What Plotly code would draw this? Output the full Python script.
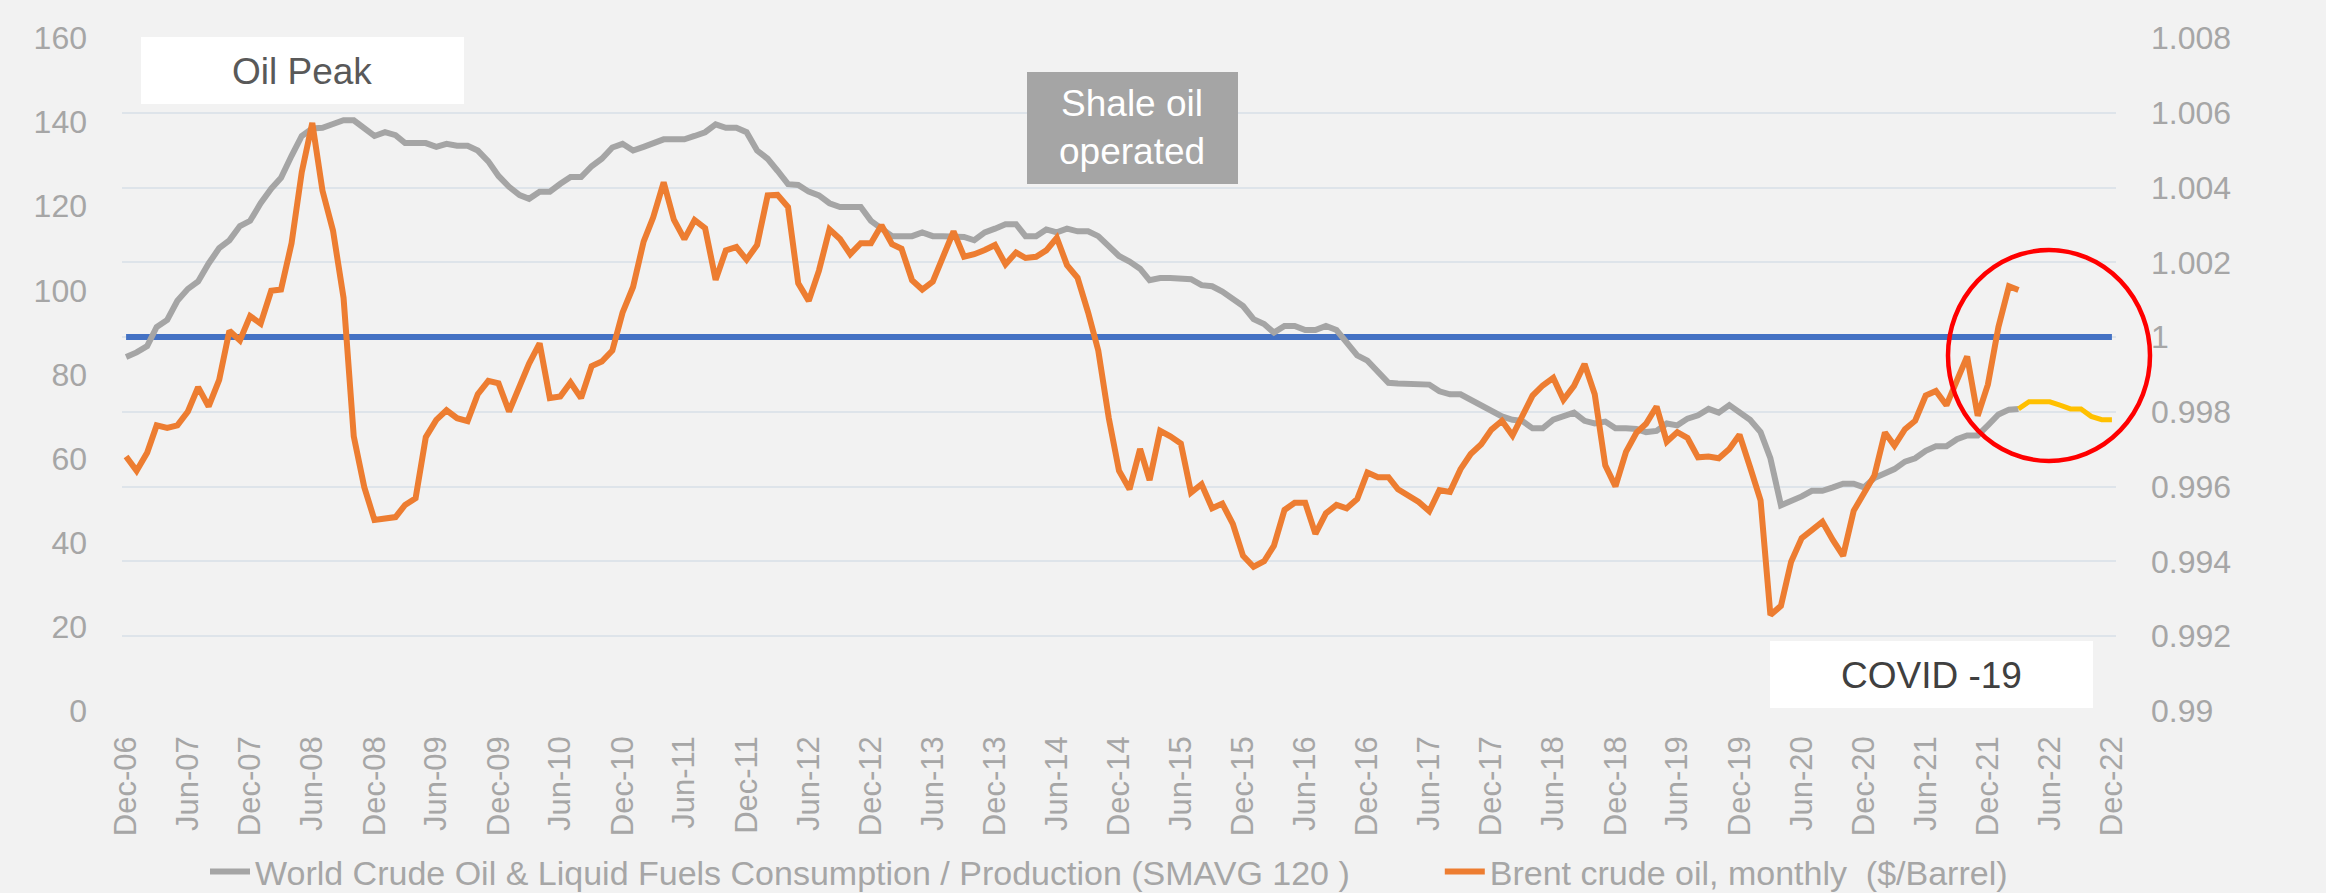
import pandas as pd
import plotly.graph_objects as go

# ---------------- data ----------------
months = pd.date_range("2006-12-01", "2022-12-01", freq="MS")  # Dec-06 .. Dec-22

brent = [
    60.5, 57.1, 61.4, 67.9, 67.3, 67.9, 71.2, 77.0, 72.4, 78.7,
    90.4, 88.1, 93.9, 92.1, 99.9, 100.2, 111.2, 128.1, 139.8, 123.7,
    114.2, 98.2, 65.3, 53.2, 45.4, 45.7, 46.1, 49.0, 50.6, 65.1,
    69.2, 71.5, 69.6, 68.9, 75.3, 78.5, 77.9, 71.2, 77.6, 82.6,
    87.4, 74.4, 74.8, 78.1, 74.4, 82.0, 83.1, 85.7, 94.7, 100.8,
    111.6, 117.3, 125.7, 116.8, 112.2, 116.7, 114.8, 102.5, 109.5, 110.3,
    107.3, 110.8, 122.6, 122.7, 119.8, 101.7, 97.5, 104.7, 114.5, 112.2,
    108.6, 111.2, 111.2, 115.5, 111.0, 109.9, 102.4, 100.2, 102.1, 107.6,
    114.0, 108.0, 108.6, 109.6, 110.8, 106.2, 109.0, 107.7, 108.0, 109.5,
    112.5, 106.0, 103.0, 94.8, 85.7, 69.6, 57.1, 52.7, 62.3, 54.9,
    66.6, 65.3, 63.6, 51.9, 53.9, 48.2, 49.3, 44.5, 36.9, 34.3,
    35.6, 39.3, 47.8, 49.5, 49.5, 42.1, 47.0, 49.0, 48.2, 50.4,
    56.7, 55.6, 55.6, 52.7, 51.3, 49.7, 47.5, 52.5, 52.1, 57.5,
    61.1, 63.4, 66.9, 69.0, 65.5, 70.1, 75.0, 77.4, 79.2, 74.0,
    77.3, 82.5, 75.3, 58.4, 53.4, 61.6, 66.2, 68.3, 72.4, 64.0,
    66.3, 64.9, 60.3, 60.5, 60.1, 62.3, 65.7, 58.0, 50.1, 22.8,
    25.0, 35.5, 41.1, 43.0, 45.0, 40.6, 36.9, 47.6, 51.6, 56.0,
    66.2, 63.1, 67.0, 69.0, 75.0, 76.1, 72.7, 78.7, 84.3, 70.2,
    77.6, 91.3, 101.0, 100.1,
]

ratio = [
    0.99947, 0.99959, 0.99976, 1.00027, 1.00046, 1.00097, 1.00129, 1.00149, 1.00197, 1.00238,
    1.00259, 1.00297, 1.00311, 1.00358, 1.00397, 1.00426, 1.00485, 1.00538, 1.00558, 1.00560,
    1.00570, 1.00580, 1.00580, 1.00561, 1.00538, 1.00548, 1.00540, 1.00519, 1.00519, 1.00519,
    1.00509, 1.00517, 1.00512, 1.00512, 1.00499, 1.00470, 1.00431, 1.00402, 1.00380, 1.00370,
    1.00389, 1.00389, 1.00410, 1.00428, 1.00428, 1.00457, 1.00477, 1.00507, 1.00517, 1.00499,
    1.00509, 1.00519, 1.00529, 1.00529, 1.00529, 1.00538, 1.00548, 1.00569, 1.00560, 1.00560,
    1.00548, 1.00499, 1.00477, 1.00445, 1.00409, 1.00407, 1.00389, 1.00379, 1.00358, 1.00348,
    1.00348, 1.00348, 1.00311, 1.00288, 1.00270, 1.00270, 1.00270, 1.00280, 1.00270, 1.00270,
    1.00270, 1.00268, 1.00259, 1.00280, 1.00290, 1.00302, 1.00302, 1.00270, 1.00270, 1.00288,
    1.00280, 1.00290, 1.00283, 1.00283, 1.00270, 1.00241, 1.00217, 1.00202, 1.00183, 1.00152,
    1.00158, 1.00158, 1.00158, 1.00155, 1.00139, 1.00136, 1.00122, 1.00103, 1.00083, 1.00048,
    1.00035, 1.00012, 1.00030, 1.00030, 1.00019, 1.00019, 1.00030, 1.00019, 0.99983, 0.99951,
    0.99937, 0.99905, 0.99878, 0.99876, 0.99876, 0.99876, 0.99873, 0.99855, 0.99847, 0.99847,
    0.99832, 0.99818, 0.99805, 0.99788, 0.99779, 0.99776, 0.99756, 0.99756, 0.99779, 0.99788,
    0.99798, 0.99776, 0.99769, 0.99774, 0.99756, 0.99756, 0.99754, 0.99746, 0.99749, 0.99769,
    0.99764, 0.99782, 0.99791, 0.99808, 0.99798, 0.99818, 0.99801, 0.99779, 0.99746, 0.99676,
    0.99550, 0.99560, 0.99574, 0.99589, 0.99589, 0.99598, 0.99608, 0.99608, 0.99598, 0.99623,
    0.99637, 0.99647, 0.99667, 0.99676, 0.99696, 0.99708, 0.99708, 0.99727, 0.99737, 0.99737,
    0.99764, 0.99793, 0.99806, 0.99808,
]

ratio_forecast = [0.99808, 0.99827, 0.99827, 0.99827, 0.99818, 0.99808, 0.99808, 0.99788, 0.99779, 0.99779]

balance_level = [1.0] * len(months)

left_ticks = [0, 20, 40, 60, 80, 100, 120, 140, 160]
right_ticks = [0.99, 0.992, 0.994, 0.996, 0.998, 1.0, 1.002, 1.004, 1.006, 1.008]
right_labels = ["0.99", "0.992", "0.994", "0.996", "0.998", "1", "1.002", "1.004", "1.006", "1.008"]

name_ratio = "World Crude Oil & Liquid Fuels Consumption / Production (SMAVG 120 )" + "\u00a0" * 9
name_brent = "Brent crude oil, monthly \u00a0($/Barrel)"

# ---------------- styling ----------------
BG = "#F2F2F2"
GRID = "#DEE4EA"
TICK = "#A6A6A6"
FONT = "Liberation Sans, Arial, sans-serif"

W, H = 2326, 893
L, R, T, B = 122, 210, 38, 182
PW, PH = W - L - R, H - T - B


def px(xp):
    return (xp - L) / PW


def py(yp):
    return (H - B - yp) / PH


fig = go.Figure()

fig.add_trace(go.Scatter(
    x=months, y=balance_level, mode="lines", yaxis="y",
    line=dict(color="#4472C4", width=6), showlegend=False, hoverinfo="skip"))

fig.add_trace(go.Scatter(
    x=months[:len(ratio)], y=ratio, mode="lines", yaxis="y", name=name_ratio,
    line=dict(color="#A5A5A5", width=6)))

fig.add_trace(go.Scatter(
    x=months[len(ratio) - 1:len(ratio) - 1 + len(ratio_forecast)], y=ratio_forecast,
    mode="lines", yaxis="y", line=dict(color="#FFC000", width=5), showlegend=False))

fig.add_trace(go.Scatter(
    x=months[:len(brent)], y=brent, mode="lines", yaxis="y2", name=name_brent,
    line=dict(color="#ED7D31", width=6)))

fig.update_layout(
    width=W, height=H,
    paper_bgcolor=BG, plot_bgcolor=BG,
    margin=dict(l=L, r=R, t=T, b=B, autoexpand=False),
    font=dict(family=FONT, color=TICK, size=32),
    xaxis=dict(
        type="date",
        range=["2006-11-19", "2022-12-13"],
        tick0="2006-12-01", dtick="M6", tickformat="%b-%y",
        tickangle=-90, showgrid=False, zeroline=False, showline=False,
        ticks="", ticklabelstandoff=18,
        tickfont=dict(family=FONT, size=31, color=TICK),
    ),
    yaxis=dict(
        side="right", range=[0.99, 1.008],
        tickvals=right_ticks, ticktext=right_labels,
        showgrid=True, gridcolor=GRID, gridwidth=2,
        zeroline=False, showline=False, ticks="", ticklabelstandoff=34,
        tickfont=dict(family=FONT, size=32, color=TICK),
    ),
    yaxis2=dict(
        overlaying="y", side="left", range=[0, 160], tickvals=left_ticks,
        showgrid=False, zeroline=False, showline=False, ticks="", ticklabelstandoff=34,
        tickfont=dict(family=FONT, size=32, color=TICK),
    ),
    legend=dict(
        orientation="h", x=px(205), xanchor="left", y=py(872), yanchor="middle",
        font=dict(family=FONT, size=34, color=TICK), bgcolor="rgba(0,0,0,0)",
        itemwidth=40, tracegroupgap=0,
    ),
    showlegend=True,
)

# text boxes
shapes = [
    dict(type="rect", xref="paper", yref="paper", x0=px(141), x1=px(464), y0=py(104), y1=py(37),
         fillcolor="#FFFFFF", line=dict(width=0), layer="above"),
    dict(type="rect", xref="paper", yref="paper", x0=px(1027), x1=px(1238), y0=py(184), y1=py(72),
         fillcolor="#A5A5A5", line=dict(width=0), layer="above"),
    dict(type="rect", xref="paper", yref="paper", x0=px(1770), x1=px(2093), y0=py(708), y1=py(641),
         fillcolor="#FFFFFF", line=dict(width=0), layer="above"),
    dict(type="circle", xref="paper", yref="paper", x0=px(1948), x1=px(2150), y0=py(461), y1=py(250),
         line=dict(color="#FF0000", width=4.5), fillcolor="rgba(0,0,0,0)", layer="above"),
]
fig.update_layout(shapes=shapes)

fig.add_annotation(xref="paper", yref="paper", x=px(302), y=py(71), text="Oil Peak",
                   xanchor="center", yanchor="middle",
                   showarrow=False, font=dict(family=FONT, size=37, color="#595959"))
fig.add_annotation(xref="paper", yref="paper", x=px(1132), y=py(128), text="Shale oil<br>operated",
                   xanchor="center", yanchor="middle",
                   showarrow=False, font=dict(family=FONT, size=37, color="#FFFFFF"))
fig.add_annotation(xref="paper", yref="paper", x=px(1931), y=py(675), text="COVID -19",
                   xanchor="center", yanchor="middle",
                   showarrow=False, font=dict(family=FONT, size=37, color="#404040"))

fig.write_html(
    "out.html",
    config={"displayModeBar": False},
    post_script="document.body.style.margin='0';document.body.style.padding='0';",
)
